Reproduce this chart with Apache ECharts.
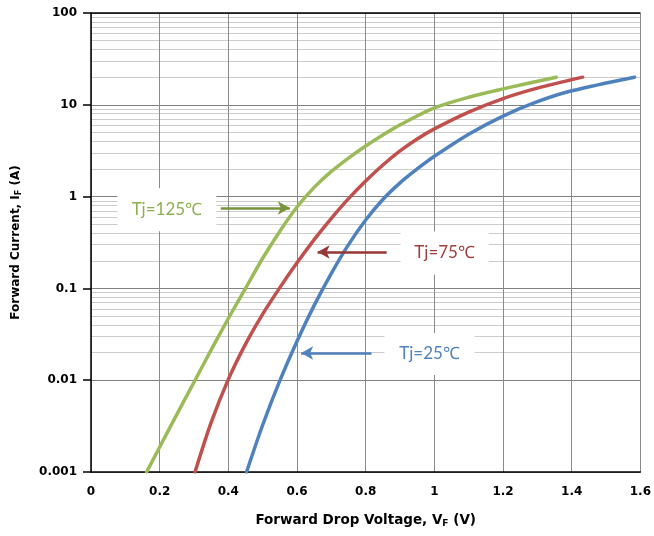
<!DOCTYPE html>
<html><head><meta charset="utf-8">
<script src="https://cdn.jsdelivr.net/npm/echarts@6/dist/echarts.min.js"></script>
<style>html,body{margin:0;padding:0;background:#fff}#c{width:654px;height:536px}</style>
</head><body><div id="c"></div>
<script>
// Forward drop voltage (V) and forward current (A) per junction temperature
const vf125 = [0.162, 0.232, 0.303, 0.35, 0.40, 0.45, 0.50, 0.55, 0.60, 0.65, 0.70, 0.75, 0.80, 0.85, 0.90, 1.0, 1.1, 1.2, 1.355];
const if125 = [0.001, 0.00316, 0.01, 0.0214, 0.047, 0.1, 0.213, 0.42, 0.77, 1.26, 1.88, 2.63, 3.56, 4.69, 6.04, 9.25, 12.1, 14.9, 20];
const vf75 = [0.303, 0.35, 0.40, 0.45, 0.50, 0.55, 0.60, 0.65, 0.70, 0.75, 0.80, 0.85, 0.90, 0.95, 1.0, 1.1, 1.2, 1.3, 1.432];
const if75 = [0.001, 0.00347, 0.0102, 0.0247, 0.0525, 0.102, 0.19, 0.34, 0.58, 0.95, 1.48, 2.21, 3.15, 4.25, 5.47, 8.33, 11.7, 15.2, 20];
const vf25 = [0.453, 0.5, 0.55, 0.6, 0.65, 0.7, 0.75, 0.8, 0.85, 0.9, 0.95, 1.0, 1.1, 1.2, 1.3, 1.4, 1.583];
const if25 = [0.001, 0.00325, 0.00988, 0.0266, 0.0653, 0.146, 0.3, 0.556, 0.93, 1.41, 2.0, 2.75, 4.79, 7.54, 10.8, 14.2, 20];

const seriesNames = ['Tj=125℃', 'Tj=75℃', 'Tj=25℃'];
const xTickLabels = ['0', '0.2', '0.4', '0.6', '0.8', '1', '1.2', '1.4', '1.6'];
const yTickValues = [0.001, 0.01, 0.1, 1, 10, 100];
const yTickLabels = ['0.001', '0.01', '0.1', '1', '10', '100'];
const minorMultipliers = [2, 3, 4, 5, 6, 7, 8, 9];
const decades = [0.001, 0.01, 0.1, 1, 10];

// annotation anchors (data coordinates)
const labelPos = [[0.221, 0.72], [1.03, 0.243], [0.986, 0.0193]];
const arrowFrom = [[0.378, 0.752], [0.861, 0.249], [0.817, 0.0198]];
const arrowTo = [[0.579, 0.752], [0.660, 0.249], [0.612, 0.0198]];

const lineColors = ['#9BBB59', '#C0504D', '#4F81BD'];
const arrowColors = ['#77933C', '#953735', '#4F81BD'];
const textColors = ['#8DB050', '#A0403C', '#4F81BD'];
const boxSizes = [[99, 43], [88, 43], [90, 42]];

function pairs(xs, ys) { return xs.map((x, i) => [x, ys[i]]); }

const minorData = [];
decades.forEach(d => minorMultipliers.forEach(m => minorData.push({ yAxis: +(d * m).toPrecision(3) })));

const FONT = 'DejaVu Sans';
const curves = [[vf125, if125], [vf75, if75], [vf25, if25]];

const series = [{
  type: 'line', data: [], z: 0, silent: true,
  markLine: {
    z: 0, silent: true, symbol: ['none', 'none'], label: { show: false },
    lineStyle: { color: '#cccccc', width: 1, type: 'solid' },
    animation: false, data: minorData
  }
}, {
  type: 'line', data: [], z: 4, silent: true,
  markLine: {
    z: 6, silent: true, symbol: ['none', 'none'], label: { show: false },
    lineStyle: { color: '#000', width: 1.5, type: 'solid' },
    animation: false, data: [{ yAxis: 100 }]
  }
}];

curves.forEach((c, i) => {
  series.push({
    name: seriesNames[i], type: 'line', z: 3,
    data: pairs(c[0], c[1]),
    smooth: 0.3, showSymbol: false, symbol: 'none',
    lineStyle: { color: lineColors[i], width: 3.5, cap: 'round', join: 'round' },
    markPoint: {
      z: 2, silent: true, animation: false,
      symbol: 'rect', symbolSize: boxSizes[i],
      itemStyle: { color: '#ffffff' },
      label: {
        show: true, position: 'inside', formatter: seriesNames[i],
        color: textColors[i], fontFamily: 'Lato', fontSize: 17
      },
      data: [{ coord: labelPos[i] }]
    },
    markLine: {
      z: 4, silent: true, animation: false,
      symbol: ['none', 'arrow'], symbolSize: [10, 12],
      label: { show: false },
      lineStyle: { color: arrowColors[i], width: 2.5, type: 'solid' },
      data: [[{ coord: arrowFrom[i] }, { coord: arrowTo[i] }]]
    }
  });
});

const chart = echarts.init(document.getElementById('c'), null, { renderer: 'canvas' });
chart.setOption({
  animation: false,
  backgroundColor: '#fff',
  grid: { left: 91, right: 13, top: 13, bottom: 64, containLabel: false },
  xAxis: {
    type: 'value', min: 0, max: 1.6, interval: 0.2, z: 1,
    name: '{a|Forward Drop Voltage, V}{s|F}{a| (V)}',
    nameLocation: 'middle', nameGap: 41,
    nameTextStyle: {
      rich: {
        a: { fontFamily: FONT, fontWeight: 'bold', fontSize: 13.5, color: '#000' },
        s: { fontFamily: FONT, fontWeight: 'bold', fontSize: 9, color: '#000', verticalAlign: 'bottom', padding: [6, 0, 0, 0] }
      }
    },
    axisLine: { lineStyle: { color: '#000', width: 1.5 } },
    axisTick: { show: false },
    axisLabel: {
      margin: 14, fontFamily: FONT, fontWeight: 'bold', fontSize: 12, color: '#000',
      formatter: v => xTickLabels[Math.round(v / 0.2)]
    },
    splitLine: { show: true, lineStyle: { color: '#8a8a8a', width: 1 } }
  },
  yAxis: {
    type: 'log', logBase: 10, min: 0.001, max: 100, z: 1,
    name: '{a|Forward Current, I}{s|F}{a| (A)}',
    nameLocation: 'middle', nameGap: 68,
    nameTextStyle: {
      rich: {
        a: { fontFamily: FONT, fontWeight: 'bold', fontSize: 12, color: '#000' },
        s: { fontFamily: FONT, fontWeight: 'bold', fontSize: 8, color: '#000', verticalAlign: 'bottom', padding: [6, 0, 0, 0] }
      }
    },
    axisLine: { show: true, lineStyle: { color: '#000', width: 1.5 } },
    axisTick: { show: true, length: 8, lineStyle: { color: '#000', width: 1.5 } },
    axisLabel: {
      margin: 14, fontFamily: FONT, fontWeight: 'bold', fontSize: 12, color: '#000',
      formatter: v => {
        const k = yTickValues.findIndex(t => Math.abs(Math.log10(t) - Math.log10(v)) < 1e-6);
        return k >= 0 ? yTickLabels[k] : '';
      }
    },
    splitLine: { show: true, lineStyle: { color: '#808080', width: 1 } }
  },
  series: series
});
</script>
</body></html>
